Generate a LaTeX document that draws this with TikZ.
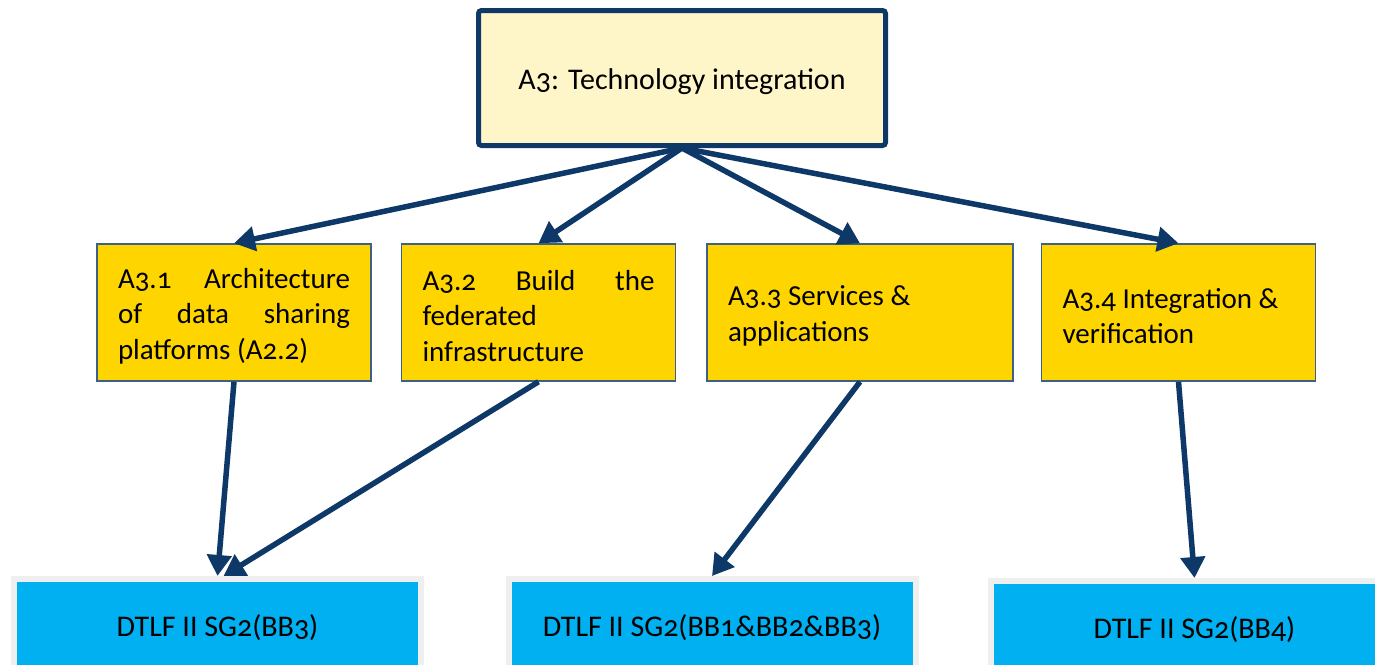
\documentclass[tikz,border=0pt]{standalone}
\usepackage{fontspec}
\setmainfont{Carlito}[Numbers=OldStyle]
\usetikzlibrary{arrows.meta,calc}
\definecolor{arrnavy}{HTML}{0D3868}
\definecolor{topfill}{HTML}{FEF5C8}
\definecolor{boxyellow}{HTML}{FFD500}
\definecolor{boxblue}{HTML}{00B0F0}
\definecolor{boxgrey}{HTML}{EFEFEF}
\newcommand{\lowtext}[1]{\raisebox{-3.5pt}[\height][\depth]{#1}}
\newcommand{\jpar}[2]{\lowtext{\parbox{#1}{\hyphenpenalty=10000 #2}}}
\newcommand{\lpar}[2]{\lowtext{\parbox{#1}{\raggedright #2}}}
\tikzset{
  topbox/.style={draw=arrnavy, line width=5pt, fill=topfill, rounded corners=3pt,
    minimum width=407pt, minimum height=135pt, inner sep=0pt, font=\fontsize{30}{36}\selectfont},
  taskbox/.style={draw=arrnavy!80, line width=1.5pt, fill=boxyellow,
    minimum height=137pt, inner xsep=21pt, inner ysep=0pt,
    font=\fontsize{29}{35.5}\selectfont},
  sgbox/.style={draw=boxgrey, line width=6pt, fill=boxblue,
    minimum width=407pt, minimum height=90pt, inner sep=0pt,
    font=\fontsize{30}{36}\selectfont},
  conn/.style={draw=arrnavy, line width=5.5pt, -{Triangle[length=21pt,width=24pt]}}
}
\begin{document}
\begin{tikzpicture}[x=1pt,y=-1pt]
\useasboundingbox (0,0) rectangle (1375,664);
\clip (0,0) rectangle (1375,664);
\node[topbox] (top) at (682,78) {\lowtext{A3: Technology integration}};
\node[taskbox] (a1) at (234,312.5)
  {\jpar{232pt}{A3.1 Architecture\linebreak of data sharing\linebreak platforms (A2.2)}};
\node[taskbox] (a2) at (538.5,312.5)
  {\jpar{232pt}{A3.2 Build the\linebreak federated\newline infrastructure}};
\node[taskbox] (a3) at (860,312.5)
  {\lpar{264pt}{A3.3 Services \&\\ applications}};
\node[taskbox] (a4) at (1178.5,312.5)
  {\lpar{232pt}{A3.4 Integration \&\\ verification}};
\node[sgbox] (b1) at (217.5,624) {\lowtext{DTLF II SG2(BB3)}};
\node[sgbox] (b2) at (712,624) {\lowtext{DTLF II SG2(BB1\&BB2\&BB3)}};
\node[sgbox] (b3) at (1194.5,626) {\lowtext{DTLF II SG2(BB4)}};
\draw[conn] (top.south) -- (a1.north);
\draw[conn] (top.south) -- (a2.north);
\draw[conn] (top.south) -- (a3.north);
\draw[conn] (top.south) -- (a4.north);
\draw[conn] (a1.south) -- (b1.north);
\draw[conn] (a2.south) -- ($(b1.north)+(6,0)$);
\draw[conn] (a3.south) -- (b2.north);
\draw[conn] (a4.south) -- (b3.north);
\end{tikzpicture}
\end{document}
